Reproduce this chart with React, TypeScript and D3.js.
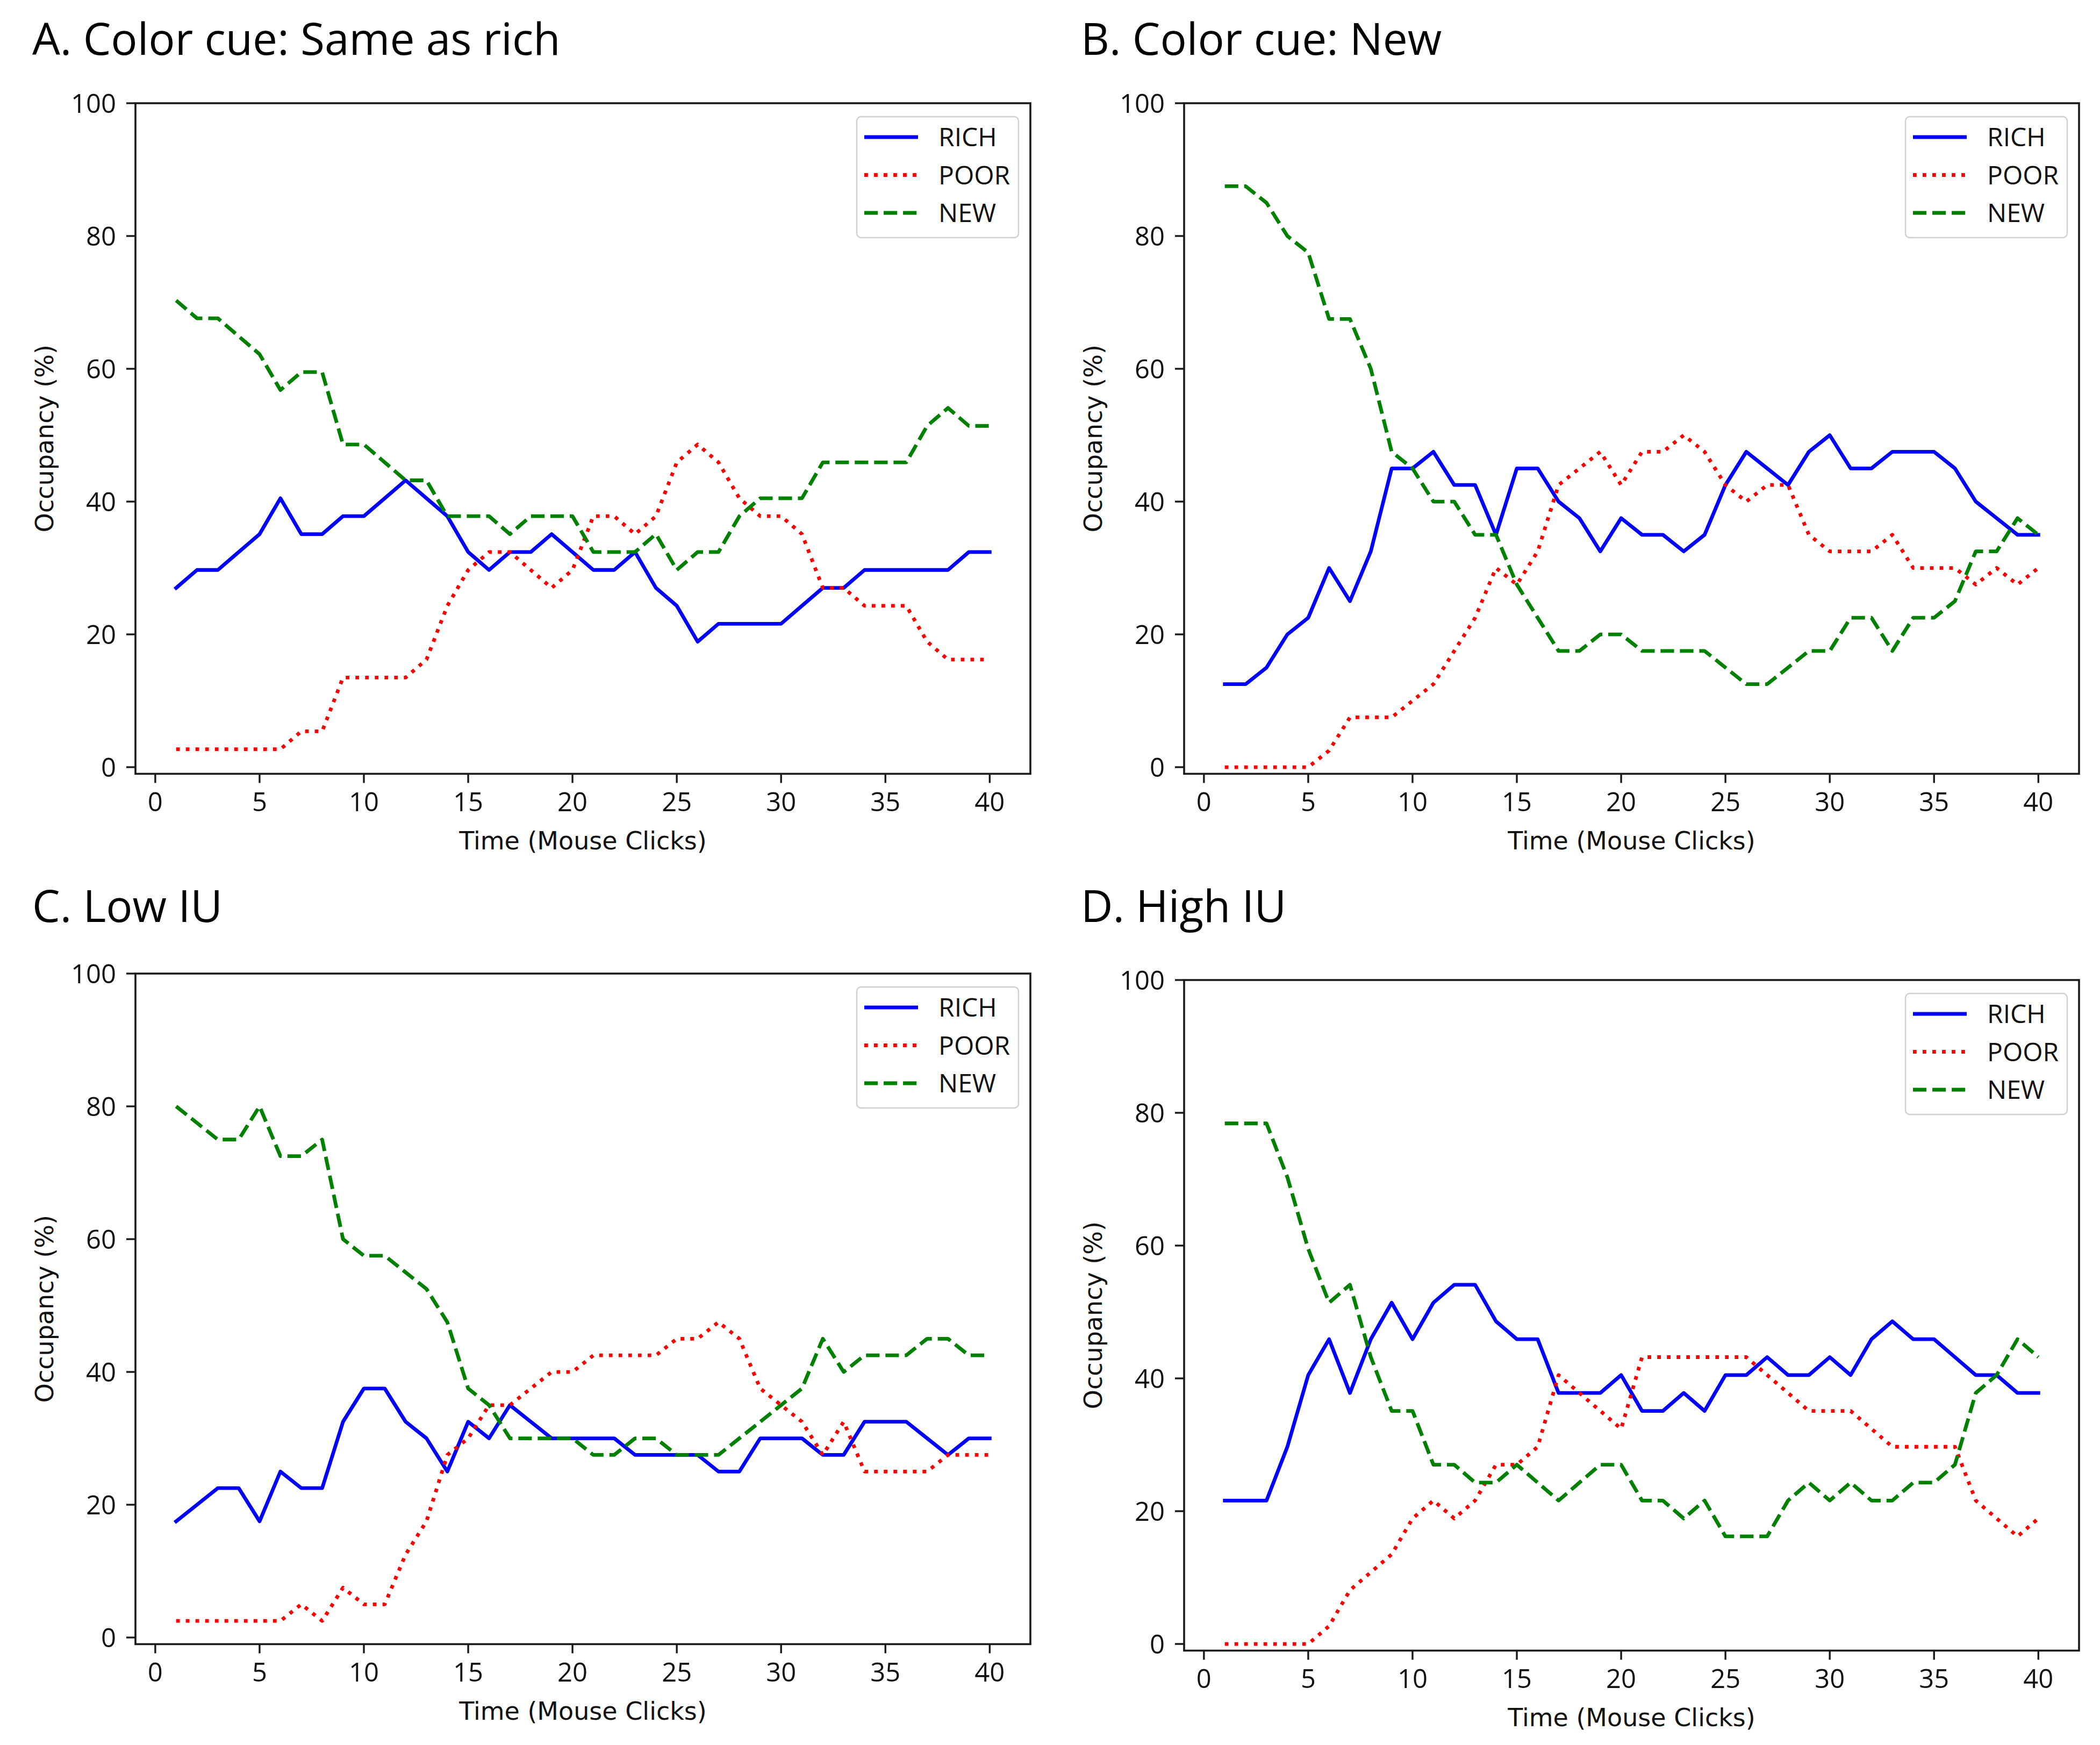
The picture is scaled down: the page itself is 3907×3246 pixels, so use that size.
import React from "react";
import * as d3 from "d3";

const TIME = d3.range(1, 41);
const X_TICKS = [0, 5, 10, 15, 20, 25, 30, 35, 40];
const Y_TICKS = [0, 20, 40, 60, 80, 100];
const SERIES_NAMES = ["RICH", "POOR", "NEW"];

const A_RICH = [27.0, 29.7, 29.7, 32.4, 35.1, 40.5, 35.1, 35.1, 37.8, 37.8, 40.5, 43.2, 40.5, 37.8, 32.4, 29.7, 32.4, 32.4, 35.1, 32.4, 29.7, 29.7, 32.4, 27.0, 24.3, 18.9, 21.6, 21.6, 21.6, 21.6, 24.3, 27.0, 27.0, 29.7, 29.7, 29.7, 29.7, 29.7, 32.4, 32.4];
const A_POOR = [2.7, 2.7, 2.7, 2.7, 2.7, 2.7, 5.4, 5.4, 13.5, 13.5, 13.5, 13.5, 16.2, 24.3, 29.7, 32.4, 32.4, 29.7, 27.0, 29.7, 37.8, 37.8, 35.1, 37.8, 45.9, 48.6, 45.9, 40.5, 37.8, 37.8, 35.1, 27.0, 27.0, 24.3, 24.3, 24.3, 18.9, 16.2, 16.2, 16.2];
const A_NEW = [70.3, 67.6, 67.6, 64.9, 62.2, 56.8, 59.5, 59.5, 48.6, 48.6, 45.9, 43.2, 43.2, 37.8, 37.8, 37.8, 35.1, 37.8, 37.8, 37.8, 32.4, 32.4, 32.4, 35.1, 29.7, 32.4, 32.4, 37.8, 40.5, 40.5, 40.5, 45.9, 45.9, 45.9, 45.9, 45.9, 51.4, 54.1, 51.4, 51.4];

const B_RICH = [12.5, 12.5, 15, 20, 22.5, 30, 25, 32.5, 45, 45, 47.5, 42.5, 42.5, 35, 45, 45, 40, 37.5, 32.5, 37.5, 35, 35, 32.5, 35, 42.5, 47.5, 45, 42.5, 47.5, 50, 45, 45, 47.5, 47.5, 47.5, 45, 40, 37.5, 35, 35];
const B_POOR = [0, 0, 0, 0, 0, 2.5, 7.5, 7.5, 7.5, 10, 12.5, 17.5, 22.5, 30, 27.5, 32.5, 42.5, 45, 47.5, 42.5, 47.5, 47.5, 50, 47.5, 42.5, 40, 42.5, 42.5, 35, 32.5, 32.5, 32.5, 35, 30, 30, 30, 27.5, 30, 27.5, 30];
const B_NEW = [87.5, 87.5, 85, 80, 77.5, 67.5, 67.5, 60, 47.5, 45, 40, 40, 35, 35, 27.5, 22.5, 17.5, 17.5, 20, 20, 17.5, 17.5, 17.5, 17.5, 15, 12.5, 12.5, 15, 17.5, 17.5, 22.5, 22.5, 17.5, 22.5, 22.5, 25, 32.5, 32.5, 37.5, 35];

const C_RICH = [17.5, 20, 22.5, 22.5, 17.5, 25, 22.5, 22.5, 32.5, 37.5, 37.5, 32.5, 30, 25, 32.5, 30, 35, 32.5, 30, 30, 30, 30, 27.5, 27.5, 27.5, 27.5, 25, 25, 30, 30, 30, 27.5, 27.5, 32.5, 32.5, 32.5, 30, 27.5, 30, 30];
const C_POOR = [2.5, 2.5, 2.5, 2.5, 2.5, 2.5, 5, 2.5, 7.5, 5, 5, 12.5, 17.5, 27.5, 30, 35, 35, 37.5, 40, 40, 42.5, 42.5, 42.5, 42.5, 45, 45, 47.5, 45, 37.5, 35, 32.5, 27.5, 32.5, 25, 25, 25, 25, 27.5, 27.5, 27.5];
const C_NEW = [80, 77.5, 75, 75, 80, 72.5, 72.5, 75, 60, 57.5, 57.5, 55, 52.5, 47.5, 37.5, 35, 30, 30, 30, 30, 27.5, 27.5, 30, 30, 27.5, 27.5, 27.5, 30, 32.5, 35, 37.5, 45, 40, 42.5, 42.5, 42.5, 45, 45, 42.5, 42.5];

const D_RICH = [21.6, 21.6, 21.6, 29.7, 40.5, 45.9, 37.8, 45.9, 51.4, 45.9, 51.4, 54.1, 54.1, 48.6, 45.9, 45.9, 37.8, 37.8, 37.8, 40.5, 35.1, 35.1, 37.8, 35.1, 40.5, 40.5, 43.2, 40.5, 40.5, 43.2, 40.5, 45.9, 48.6, 45.9, 45.9, 43.2, 40.5, 40.5, 37.8, 37.8];
const D_POOR = [0, 0, 0, 0, 0, 2.7, 8.1, 10.8, 13.5, 18.9, 21.6, 18.9, 21.6, 27.0, 27.0, 29.7, 40.5, 37.8, 35.1, 32.4, 43.2, 43.2, 43.2, 43.2, 43.2, 43.2, 40.5, 37.8, 35.1, 35.1, 35.1, 32.4, 29.7, 29.7, 29.7, 29.7, 21.6, 18.9, 16.2, 18.9];
const D_NEW = [78.4, 78.4, 78.4, 70.3, 59.5, 51.4, 54.1, 43.2, 35.1, 35.1, 27.0, 27.0, 24.3, 24.3, 27.0, 24.3, 21.6, 24.3, 27.0, 27.0, 21.6, 21.6, 18.9, 21.6, 16.2, 16.2, 16.2, 21.6, 24.3, 21.6, 24.3, 21.6, 21.6, 24.3, 24.3, 27.0, 37.8, 40.5, 45.9, 43.2];

const PANEL_TITLES = ["A. Color cue: Same as rich", "B. Color cue: New", "C. Low IU", "D. High IU"];
const PANEL_DATA = [
  [A_RICH, A_POOR, A_NEW],
  [B_RICH, B_POOR, B_NEW],
  [C_RICH, C_POOR, C_NEW],
  [D_RICH, D_POOR, D_NEW],
];

// layout
const W = 3907;
const H = 3246;
const OFFSETS = [
  { dx: 0, dy: 0, ty: 102 },
  { dx: 1951, dy: 0, ty: 102 },
  { dx: 0, dy: 1619, ty: 1715 },
  { dx: 1951, dy: 1631, ty: 1715 },
];
const AX_LEFT = 252;
const AX_RIGHT = 1917;
const AX_TOP = 192;
const AX_BOTTOM = 1439.4;
const LW = 6.8;
const STYLES = [
  { color: "#0000ff", dash: "none" },
  { color: "#ff0000", dash: `${LW * 1} ${LW * 1.65}` },
  { color: "#008000", dash: `${LW * 3.7} ${LW * 1.6}` },
];
const SANS = "'Open Sans', 'Noto Sans', sans-serif";
const DEJA = "'DejaVu Sans', sans-serif";

const xScale = d3.scaleLinear().domain([-0.95, 41.95]).range([AX_LEFT, AX_RIGHT]);
const yScale = d3.scaleLinear().domain([-1, 100]).range([AX_BOTTOM, AX_TOP]);

function Panel({ idx }: { idx: number }) {
  const off = OFFSETS[idx];
  const series = PANEL_DATA[idx];
  const line = d3
    .line<number>()
    .x((_, i) => xScale(TIME[i]))
    .y((v) => yScale(v));
  const tick = 17;
  const legX = 1594;
  const legY = 217;
  return (
    <g>
      <text x={off.dx + 60} y={off.ty} fontFamily={SANS} fontSize={82} fill="#000">
        {PANEL_TITLES[idx]}
      </text>
      <g transform={`translate(${off.dx},${off.dy})`}>
        {series.map((vals, k) => (
          <path
            key={k}
            d={line(vals) || ""}
            fill="none"
            stroke={STYLES[k].color}
            strokeWidth={LW}
            strokeDasharray={STYLES[k].dash}
            strokeLinejoin="round"
            strokeLinecap={k === 0 ? "square" : "butt"}
          />
        ))}
        <rect
          x={AX_LEFT}
          y={AX_TOP}
          width={AX_RIGHT - AX_LEFT}
          height={AX_BOTTOM - AX_TOP}
          fill="none"
          stroke="#1a1a1a"
          strokeWidth={3.6}
        />
        {X_TICKS.map((t) => (
          <g key={"x" + t}>
            <line x1={xScale(t)} x2={xScale(t)} y1={AX_BOTTOM} y2={AX_BOTTOM + tick} stroke="#1a1a1a" strokeWidth={3.4} />
            <text x={xScale(t)} y={1509} textAnchor="middle" fontFamily={SANS} fontSize={49} fill="#111">
              {t}
            </text>
          </g>
        ))}
        {Y_TICKS.map((t) => (
          <g key={"y" + t}>
            <line x1={AX_LEFT - tick} x2={AX_LEFT} y1={yScale(t)} y2={yScale(t)} stroke="#1a1a1a" strokeWidth={3.4} />
            <text x={AX_LEFT - tick - 19} y={yScale(t) + 17.5} textAnchor="end" fontFamily={SANS} fontSize={49} fill="#111">
              {t}
            </text>
          </g>
        ))}
        <text
          x={(AX_LEFT + AX_RIGHT) / 2}
          y={1580}
          textAnchor="middle"
          fontFamily={DEJA}
          fontSize={46}
          fill="#111"
        >
          Time (Mouse Clicks)
        </text>
        <text
          transform={`translate(99,${(AX_TOP + AX_BOTTOM) / 2}) rotate(-90)`}
          textAnchor="middle"
          fontFamily={DEJA}
          fontSize={46}
          fill="#111"
        >
          Occupancy (%)
        </text>
        <rect
          x={legX}
          y={legY}
          width={301}
          height={225}
          rx={8}
          fill="#ffffff"
          fillOpacity={0.8}
          stroke="#d0d0d0"
          strokeWidth={2.5}
        />
        {SERIES_NAMES.map((name, k) => {
          const ly = 255 + k * 70.5;
          return (
            <g key={name}>
              <line
                x1={1608}
                x2={1708}
                y1={ly}
                y2={ly}
                stroke={STYLES[k].color}
                strokeWidth={LW}
                strokeDasharray={STYLES[k].dash}
                strokeLinecap="butt"
              />
              <text x={1746} y={ly + 17} fontFamily={SANS} fontSize={48} fill="#111">
                {name}
              </text>
            </g>
          );
        })}
      </g>
    </g>
  );
}

export default function App() {
  return (
    <svg
      width={W}
      height={H}
      viewBox={`0 0 ${W} ${H}`}
      style={{ position: "absolute", left: 0, top: 0, background: "#fff" }}
    >
      <rect x={0} y={0} width={W} height={H} fill="#fff" />
      {[0, 1, 2, 3].map((i) => (
        <Panel key={i} idx={i} />
      ))}
    </svg>
  );
}
